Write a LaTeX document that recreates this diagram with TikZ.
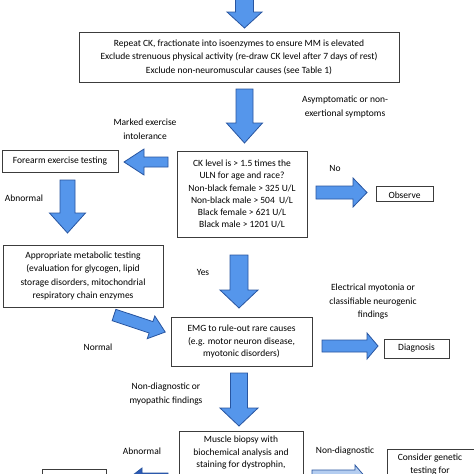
\documentclass[tikz,border=0pt]{standalone}
\usepackage{fontspec}
\setmainfont{Carlito}
\definecolor{arrfill}{RGB}{85,150,235}
\definecolor{arrline}{RGB}{40,85,160}
\definecolor{arrdark}{RGB}{45,90,180}
\definecolor{arrlight}{RGB}{180,205,240}
\definecolor{boxline}{RGB}{60,60,60}
\tikzset{
  blk/.style={fill=arrfill, draw=arrline, line width=0.8pt, line join=miter},
  bx/.style={draw=boxline, line width=0.8pt, inner sep=0pt, rectangle},
  txt/.style={align=center, inner sep=0pt, font=\fontsize{9.5}{12.2}\selectfont},
  lbl/.style={align=center, inner sep=0pt, font=\fontsize{9.5}{13.5}\selectfont}
}
% #1 style, #2 x, #3 y (image coords), #4 angle, #5 length, #6 shaft half, #7 head half, #8 head length
\newcommand\barrow[8][]{%
  \begin{scope}[shift={(#2,-#3)}, rotate=#4]
    \draw[blk,#1] (0,-#6) -- ({#5-#8},-#6) -- ({#5-#8},-#7) -- (#5,0) -- ({#5-#8},#7) -- ({#5-#8},#6) -- (0,#6) -- cycle;
  \end{scope}}
\begin{document}
\begin{tikzpicture}[x=1pt,y=1pt]
\useasboundingbox (0,0) rectangle (474,-474);
\clip (0,0) rectangle (474,-474);
\fill[white] (0,0) rectangle (474,-474);

% boxes
\node[bx, minimum width=320pt, minimum height=50pt] (box1) at (239,-57) {};
\node[txt, font=\fontsize{9.5}{13.5}\selectfont] (box1t) at (box1.center) {Repeat CK, fractionate into isoenzymes to ensure MM is elevated\\Exclude strenuous physical activity (re-draw CK level after 7 days of rest)\\Exclude non-neuromuscular causes (see Table 1)};

\node[bx, minimum width=116pt, minimum height=22pt] (fore) at (60,-161) {};
\node[txt] (foret) at (fore.center) {Forearm exercise testing};

\node[bx, minimum width=130pt, minimum height=86pt] (ck) at (242,-194) {};
\node[txt] (ckt) at (ck.center) {CK level is > 1.5 times the\\ULN for age and race?\\Non-black female > 325 U/L\\Non-black male > 504\ \ U/L\\Black female > 621 U/L\\Black male > 1201 U/L};

\node[bx, minimum width=57pt, minimum height=15pt] (obs) at (404.5,-193.5) {};
\node[txt] (obst) at ([yshift=-2pt]obs.center) {Observe};

\node[bx, minimum width=160pt, minimum height=62pt] (met) at (83,-276) {};
\node[txt, font=\fontsize{9.5}{13.5}\selectfont] (mett) at (met.center) {Appropriate metabolic testing\\(evaluation for glycogen, lipid\\storage disorders, mitochondrial\\respiratory chain enzymes};

\node[bx, minimum width=141pt, minimum height=49pt] (emg) at (241.5,-341.5) {};
\node[txt] (emgt) at (emg.center) {EMG to rule-out rare causes\\(e.g. motor neuron disease,\\myotonic disorders)};

\node[bx, minimum width=65pt, minimum height=19pt] (diag) at (416.5,-348.5) {};
\node[txt] (diagt) at (diag.center) {Diagnosis};

\node[bx, minimum width=124pt, minimum height=69pt] (bio) at (241,-465.5) {};
\node[txt, anchor=north] (biot) at (241,-436) {Muscle biopsy with\\biochemical analysis and\\staining for dystrophin,};

\node[bx, minimum width=93pt, minimum height=71pt] (gen) at (433.5,-484.5) {};
\node[txt, anchor=north] (gent) at (430,-454) {Consider genetic\\testing for};

\node[bx, minimum width=64pt, minimum height=51pt] (bl) at (74,-494.5) {};

% labels
\node[lbl] (l1) at (345,-107) {Asymptomatic or non-\\exertional symptoms};
\node[lbl] (l2) at (145,-129) {Marked exercise\\intolerance};
\node[lbl] (l3) at (335,-168) {No};
\node[lbl] (l4) at (24,-198) {Abnormal};
\node[lbl] (l5) at (203,-272) {Yes};
\node[lbl] (l6) at (373,-302) {Electrical myotonia or\\classifiable neurogenic\\findings};
\node[lbl] (l7) at (98,-347) {Normal};
\node[lbl] (l8) at (166,-394) {Non-diagnostic or\\myopathic findings};
\node[lbl] (l9) at (142,-451) {Abnormal};
\node[lbl] (l10) at (345,-451) {Non-diagnostic};

% block arrows
\barrow{244.5}{-5}{-90}{33}{9}{17.5}{16}
\barrow{244.5}{89}{-90}{54}{8.5}{18}{20}
\barrow{168}{162}{180}{44}{5}{13}{20}
\barrow{316}{192.5}{0}{51}{6.5}{14.5}{14}
\barrow{67.5}{180}{-90}{53}{7.5}{18}{20}
\barrow{239}{255}{-90}{53}{9}{19}{18}
\barrow{114}{315}{-18.4}{54}{6}{12}{15}
\barrow{322}{346}{0}{56}{6}{13}{11}
\barrow{239}{373}{-90}{53}{8.5}{19}{18}
\barrow[fill=arrdark]{168}{482}{180}{44}{9}{14}{18}
\barrow[fill=arrlight]{312}{479}{0}{55}{9}{14}{12}
\end{tikzpicture}
\end{document}
